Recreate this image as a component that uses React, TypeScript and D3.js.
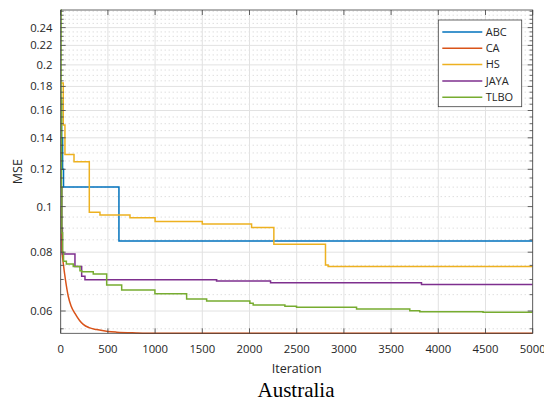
import React from "react";
import * as d3 from "d3";

const xTicks = [0, 500, 1000, 1500, 2000, 2500, 3000, 3500, 4000, 4500, 5000];
const yTicks = [0.06, 0.08, 0.1, 0.12, 0.14, 0.16, 0.18, 0.2, 0.22, 0.24];
const yMinorTicks = d3.range(0.055, 0.2601, 0.005).map((v) => Math.round(v * 1000) / 1000);

const seriesNames = ["ABC", "CA", "HS", "JAYA", "TLBO"];
const seriesColors = ["#0072BD", "#D95319", "#EDB120", "#7E2F8E", "#77AC30"];

const abcIter = [0, 10, 20, 30, 617, 5000];
const abcVal = [0.168, 0.14, 0.12, 0.11, 0.0845, 0.0845];

const caIter = [0, 5, 10, 20, 27, 50, 80, 110, 151, 200, 239, 300, 381, 500, 593, 800, 1000, 2000, 5000];
const caVal = [0.1, 0.088, 0.082, 0.078, 0.0758, 0.07, 0.0645, 0.0615, 0.0593, 0.0573, 0.0562, 0.0553, 0.0548, 0.0543, 0.0541, 0.0539, 0.0538, 0.0538, 0.0538];

const hsIter = [0, 27, 45, 141, 303, 416, 734, 1000, 1500, 2022, 2258, 2805, 2833, 5000];
const hsVal = [0.183, 0.149, 0.129, 0.1245, 0.0973, 0.096, 0.0947, 0.093, 0.0918, 0.0903, 0.0832, 0.0751, 0.0746, 0.0746];

const jayaIter = [0, 6, 12, 18, 151, 222, 257, 1651, 2223, 3822, 5000];
const jayaVal = [0.14, 0.11, 0.09, 0.0793, 0.0746, 0.0711, 0.0699, 0.0695, 0.0689, 0.0683, 0.0683];

const tlboIter = [0, 4, 8, 12, 20, 30, 60, 133, 204, 222, 345, 487, 646, 998, 1334, 1546, 2004, 2039, 2375, 2498, 3134, 3698, 3804, 4474, 5000];
const tlboVal = [0.2616, 0.17, 0.11, 0.088, 0.08, 0.0765, 0.0755, 0.0746, 0.0731, 0.0727, 0.0719, 0.0681, 0.0665, 0.0653, 0.0636, 0.063, 0.0623, 0.0618, 0.0614, 0.0611, 0.0606, 0.0601, 0.0598, 0.0596, 0.0596];

const W = 544;
const H = 403;
const L = 60.7;
const R = 532.7;
const T = 10;
const B = 333.3;

const font = "'Open Sans', 'DejaVu Sans', sans-serif";
const textColor = "#262626";

export default function App() {
  const x = d3.scaleLinear().domain([0, 5000]).range([L, R]);
  const y = d3.scaleLog().domain([0.0538, 0.2616]).range([B, T]);

  const mk = (it: number[], v: number[]) => it.map((d, i) => [d, v[i]] as [number, number]);
  const stepLine = d3
    .line<[number, number]>()
    .x((d) => x(d[0]))
    .y((d) => y(d[1]))
    .curve(d3.curveStepAfter);
  const smoothLine = d3
    .line<[number, number]>()
    .x((d) => x(d[0]))
    .y((d) => y(d[1]))
    .curve(d3.curveMonotoneX);

  const paths = [
    { d: stepLine(mk(abcIter, abcVal)), c: seriesColors[0] },
    { d: smoothLine(mk(caIter, caVal)), c: seriesColors[1] },
    { d: stepLine(mk(hsIter, hsVal)), c: seriesColors[2] },
    { d: stepLine(mk(jayaIter, jayaVal)), c: seriesColors[3] },
    { d: stepLine(mk(tlboIter, tlboVal)), c: seriesColors[4] },
  ];

  const minor = yMinorTicks.filter((v) => !yTicks.some((t) => Math.abs(t - v) < 1e-6));

  const legX = 438.3;
  const legY = 20;
  const legW = 83.4;
  const legH = 86.7;

  return (
    <svg width={W} height={H} style={{ position: "absolute", left: 0, top: 0, background: "#fff" }}>
      <rect x={0} y={0} width={W} height={H} fill="#fff" />
      {minor.map((v) => (
        <line key={"mg" + v} x1={L} x2={R} y1={y(v)} y2={y(v)} stroke="#c4c4c4" strokeWidth={0.8} strokeDasharray="1 3" />
      ))}
      {yTicks.map((v) => (
        <line key={"gy" + v} x1={L} x2={R} y1={y(v)} y2={y(v)} stroke="#e2e2e2" strokeWidth={1} />
      ))}
      {xTicks.map((v) => (
        <line key={"gx" + v} x1={x(v)} x2={x(v)} y1={T} y2={B} stroke="#e2e2e2" strokeWidth={1} />
      ))}
      <defs>
        <clipPath id="clip">
          <rect x={L} y={T - 1} width={R - L} height={B - T + 2} />
        </clipPath>
      </defs>
      <g clipPath="url(#clip)">
        {paths.map((p, i) => (
          <path key={i} d={p.d || ""} fill="none" stroke={p.c} strokeWidth={1.5} />
        ))}
      </g>
      <rect x={L} y={T} width={R - L} height={B - T} fill="none" stroke="#404040" strokeWidth={0.8} />
      {yTicks.map((v) => (
        <g key={"ty" + v}>
          <line x1={L} x2={L + 5} y1={y(v)} y2={y(v)} stroke="#404040" strokeWidth={0.8} />
          <line x1={R} x2={R - 5} y1={y(v)} y2={y(v)} stroke="#404040" strokeWidth={0.8} />
          <text x={52.5} y={y(v)} dy="0.35em" textAnchor="end" fontFamily={font} fontSize={11.3} fill={textColor}>
            {String(v)}
          </text>
        </g>
      ))}
      {minor.map((v) => (
        <g key={"tm" + v}>
          <line x1={L} x2={L + 3} y1={y(v)} y2={y(v)} stroke="#404040" strokeWidth={0.8} />
          <line x1={R} x2={R - 3} y1={y(v)} y2={y(v)} stroke="#404040" strokeWidth={0.8} />
        </g>
      ))}
      {xTicks.map((v) => (
        <g key={"tx" + v}>
          <line x1={x(v)} x2={x(v)} y1={B} y2={B - 5} stroke="#404040" strokeWidth={0.8} />
          <line x1={x(v)} x2={x(v)} y1={T} y2={T + 5} stroke="#404040" strokeWidth={0.8} />
          <text x={x(v)} y={353} textAnchor="middle" fontFamily={font} fontSize={11.3} fill={textColor}>
            {String(v)}
          </text>
        </g>
      ))}
      <text x={(L + R) / 2} y={372.5} textAnchor="middle" fontFamily={font} fontSize={12.5} fill={textColor}>
        Iteration
      </text>
      <text
        transform={`translate(22,${(T + B) / 2}) rotate(-90)`}
        textAnchor="middle"
        fontFamily={font}
        fontSize={12.5}
        fill={textColor}
      >
        MSE
      </text>
      <text x={296} y={397} textAnchor="middle" fontFamily="'Liberation Serif', 'Times New Roman', serif" fontSize={21} fill="#000">
        Australia
      </text>
      <rect x={legX} y={legY} width={legW} height={legH} fill="#fff" stroke="#404040" strokeWidth={0.8} />
      {seriesNames.map((n, i) => {
        const yy = legY + 12 + i * 16.3;
        return (
          <g key={n}>
            <line x1={442.3} x2={482.3} y1={yy} y2={yy} stroke={seriesColors[i]} strokeWidth={1.5} />
            <text x={485.7} y={yy} dy="0.35em" fontFamily={font} fontSize={11} fill={textColor}>
              {n}
            </text>
          </g>
        );
      })}
    </svg>
  );
}
